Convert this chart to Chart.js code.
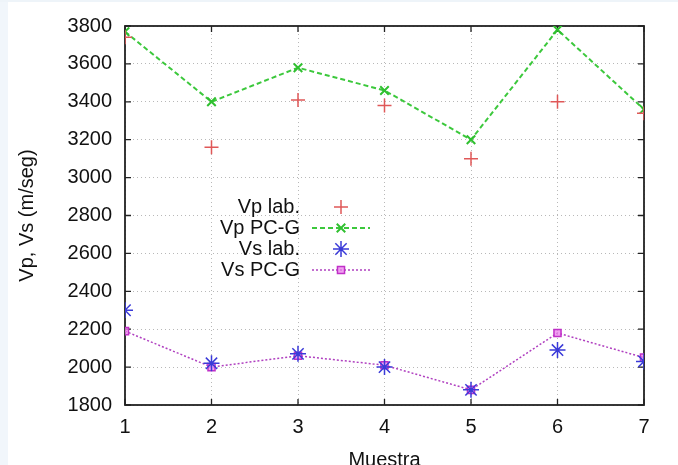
<!DOCTYPE html>
<html>
<head>
<meta charset="utf-8">
<script src="https://cdn.jsdelivr.net/npm/chart.js@4/dist/chart.umd.min.js"></script>
<style>
  html, body { margin: 0; padding: 0; background: #ffffff; overflow: hidden; width: 678px; height: 465px; }
  #wrap { position: relative; width: 678px; height: 465px; overflow: hidden; }
  #strip { position: absolute; left: 0; top: 0; width: 8px; height: 465px; background: #f1f6fb; }
  #topstrip { position: absolute; left: 0; top: 0; width: 678px; height: 2px; background: #eef4f9; }
  canvas { position: absolute; left: 0; top: 0; }
</style>
</head>
<body>
<div id="wrap">
  <canvas id="c" width="678" height="490"></canvas>
  <div id="strip"></div>
  <div id="topstrip"></div>
</div>
<script>
// ---- Data ----
const muestras = [1, 2, 3, 4, 5, 6, 7];
const vpLab  = [3740, 3160, 3410, 3380, 3100, 3400, 3340];
const vpPCG  = [3770, 3400, 3580, 3460, 3200, 3780, 3360];
const vsLab  = [2300, 2020, 2070, 2000, 1880, 2090, 2030];
const vsPCG  = [2190, 2000, 2060, 2010, 1880, 2180, 2050];
const seriesNames = ['Vp lab.', 'Vp PC-G', 'Vs lab.', 'Vs PC-G'];
const yTicks = [1800, 2000, 2200, 2400, 2600, 2800, 3000, 3200, 3400, 3600, 3800];
const xLabel = 'Muestra';
const yLabel = 'Vp, Vs (m/seg)';

const pts = arr => muestras.map((m, i) => ({ x: m, y: arr[i] }));
const FONT = "'Liberation Sans', Arial, Helvetica, sans-serif";

const datasets = [
  { label: seriesNames[0], data: pts(vpLab), showLine: false,
    pointStyle: 'cross', pointRadius: 7, borderColor: '#e05858', pointBorderWidth: 1.5,
    backgroundColor: '#e05858' },
  { label: seriesNames[1], data: pts(vpPCG), showLine: true,
    borderColor: '#3cc83c', borderWidth: 2, borderDash: [5, 3],
    pointStyle: 'crossRot', pointRadius: 6, pointBorderWidth: 2, pointBorderColor: '#30c030',
    backgroundColor: '#3cc83c' },
  { label: seriesNames[2], data: pts(vsLab), showLine: false,
    pointStyle: 'star', pointRadius: 8, borderColor: '#3a3ad8', pointBorderWidth: 1.5,
    backgroundColor: '#3a3ad8' },
  { label: seriesNames[3], data: pts(vsPCG), showLine: true,
    borderColor: '#b040c0', borderWidth: 1.5, borderDash: [2, 2],
    pointStyle: 'rect', pointRadius: 5, pointBorderWidth: 1.5, pointBorderColor: '#c030c8',
    pointBackgroundColor: 'rgba(235,130,235,0.75)', backgroundColor: '#c030c8' }
];

function drawMarker(ctx, ds, x, y) {
  ctx.save();
  ctx.strokeStyle = ds.pointBorderColor || ds.borderColor;
  ctx.fillStyle = ds.pointBackgroundColor || ds.backgroundColor;
  ctx.lineWidth = ds.pointBorderWidth;
  ctx.setLineDash([]);
  Chart.helpers.drawPoint(ctx, { pointStyle: ds.pointStyle, radius: ds.pointRadius, borderWidth: ds.pointBorderWidth, rotation: 0 }, x, y);
  ctx.restore();
}

const framePlugin = {
  id: 'frame',
  beforeDatasetsDraw(chart) {
    const { ctx, chartArea: a, scales } = chart;
    ctx.save();
    ctx.strokeStyle = '#222';
    ctx.lineWidth = 1.8;
    ctx.setLineDash([]);
    ctx.strokeRect(a.left, a.top, a.right - a.left, a.bottom - a.top);
    ctx.lineWidth = 1.3;
    const tl = 6;
    muestras.forEach(m => {
      const x = scales.x.getPixelForValue(m);
      ctx.beginPath();
      ctx.moveTo(x, a.bottom); ctx.lineTo(x, a.bottom - tl);
      ctx.moveTo(x, a.top); ctx.lineTo(x, a.top + tl);
      ctx.stroke();
    });
    yTicks.forEach(v => {
      const y = scales.y.getPixelForValue(v);
      ctx.beginPath();
      ctx.moveTo(a.left, y); ctx.lineTo(a.left + tl, y);
      ctx.moveTo(a.right, y); ctx.lineTo(a.right - tl, y);
      ctx.stroke();
    });
    ctx.restore();
  }
};

const legendPlugin = {
  id: 'gpLegend',
  afterDraw(chart) {
    const { ctx } = chart;
    const textRight = 300, x0 = 312, x1 = 370, xm = 341;
    const rows = [207, 228, 249, 270];
    ctx.save();
    ctx.font = '20px ' + FONT;
    ctx.textAlign = 'right';
    ctx.textBaseline = 'middle';
    chart.data.datasets.forEach((ds, i) => {
      const y = rows[i];
      ctx.fillStyle = '#111';
      ctx.fillText(ds.label, textRight, y);
      if (ds.showLine) {
        ctx.beginPath();
        ctx.strokeStyle = ds.borderColor;
        ctx.lineWidth = ds.borderWidth;
        ctx.setLineDash(ds.borderDash || []);
        ctx.moveTo(x0, y); ctx.lineTo(x1, y);
        ctx.stroke();
        ctx.setLineDash([]);
      }
      drawMarker(ctx, ds, xm, y);
    });
    ctx.restore();
  }
};

new Chart(document.getElementById('c'), {
  type: 'scatter',
  data: { datasets },
  options: {
    responsive: false,
    animation: false,
    devicePixelRatio: 1,
    layout: { padding: { top: 26, right: 34, left: 0, bottom: 0 } },
    plugins: { legend: { display: false }, tooltip: { enabled: false } },
    scales: {
      x: {
        type: 'linear', min: 1, max: 7,
        afterFit(s) { s.height = 85; },
        afterBuildTicks(s) { s.ticks = muestras.map(v => ({ value: v })); },
        ticks: { padding: 10, color: '#111', font: { family: FONT, size: 20 }, callback: v => String(v) },
        grid: { color: '#b8b8b8', lineWidth: 1, drawTicks: false },
        border: { display: false, dash: [1, 3] },
        title: { display: true, text: xLabel, color: '#111', font: { family: FONT, size: 20 }, padding: { top: 9, bottom: 18 } }
      },
      y: {
        min: 1800, max: 3800,
        afterFit(s) { s.width = 125; },
        afterBuildTicks(s) { s.ticks = yTicks.map(v => ({ value: v })); },
        ticks: { padding: 13, color: '#111', font: { family: FONT, size: 20 }, callback: v => String(v) },
        grid: { color: '#b8b8b8', lineWidth: 1, drawTicks: false },
        border: { display: false, dash: [1, 3] },
        title: { display: true, text: yLabel, color: '#111', font: { family: FONT, size: 20 }, padding: { top: 15, bottom: 0 } }
      }
    }
  },
  plugins: [framePlugin, legendPlugin]
});
</script>
</body>
</html>
